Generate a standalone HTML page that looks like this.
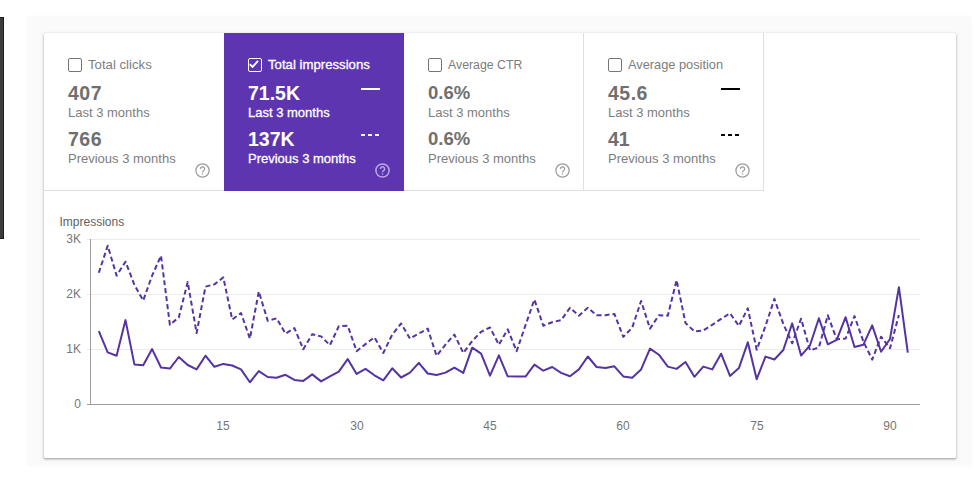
<!DOCTYPE html>
<html><head><meta charset="utf-8">
<style>
html,body{margin:0;padding:0;width:976px;height:489px;overflow:hidden;background:#fff;font-family:"Liberation Sans",sans-serif;}
.a{position:absolute}
#bar{left:0;top:17px;width:3px;height:220px;background:#3c3c3c;border-top:1px solid #1c1c1c;border-right:1px solid #1c1c1c;border-bottom:1px solid #1c1c1c}
#bg{left:28px;top:17px;width:943px;height:448px;background:#fafafa;box-shadow:0 0 3px 1px #fafafa}
#card{left:44px;top:33px;width:912px;height:425px;background:#fff;border-radius:1.5px;box-shadow:0 1px 2px rgba(0,0,0,.28),0 1px 3px 1px rgba(0,0,0,.10)}
.tile{position:absolute;top:0;width:180px;height:158px;box-sizing:border-box;border-bottom:1px solid #e0e0e0}
.t3,.t4{border-right:1px solid #e0e0e0}
.t2{background:#5e35b1;border-bottom:none;height:158px}
.cb{position:absolute;left:24px;top:25px;width:14px;height:14px;box-sizing:border-box;border:1.6px solid #757575;border-radius:2px}
.t2 .cb{border-color:#fff}
.ttl{position:absolute;left:44px;top:24px;font-size:13px;line-height:16px;color:#7d7d7d;white-space:nowrap}
.num{position:absolute;left:24px;font-size:19.5px;line-height:22px;font-weight:bold;color:#6f6f6f;white-space:nowrap}
.sub{position:absolute;left:24px;font-size:13px;line-height:16px;color:#7d7d7d;white-space:nowrap}
.t2 .ttl,.t2 .num,.t2 .sub{color:#fff}
.t2 .ttl,.t2 .sub{-webkit-text-stroke:.3px #fff}
.n1{top:49px}.s1{top:72px}.n2{top:95px}.s2{top:118px}
.help{position:absolute;left:151px;top:129.5px;width:15px;height:15px}
.leg{position:absolute;left:137px;width:19px;height:2px}
.lg1{top:55px}.lg2{top:101px}
#chart{left:0;top:0;width:976px;height:489px}
.yl{position:absolute;font-size:12px;line-height:14px;color:#757575;text-align:right;width:40px}
.xl{position:absolute;font-size:12px;line-height:14px;color:#757575;text-align:center;width:40px}
</style></head><body>
<div class="a" id="bar"></div>
<div class="a" id="bg"></div>
<div class="a" id="card">
  <div class="tile t1" style="left:0">
    <div class="cb"></div>
    <div class="ttl" style="font-size:13.2px">Total clicks</div>
    <div class="num n1" style="letter-spacing:.5px">407</div>
    <div class="sub s1">Last 3 months</div>
    <div class="num n2" style="letter-spacing:.5px">766</div>
    <div class="sub s2">Previous 3 months</div>
    <svg class="help" viewBox="0 0 15 15"><circle cx="7.5" cy="7.5" r="6.6" fill="none" stroke="#9e9e9e" stroke-width="1.3"/><path d="M5.4 5.9a2.1 2.1 0 1 1 3.2 1.8c-.7.4-1.1.8-1.1 1.6" fill="none" stroke="#9e9e9e" stroke-width="1.3"/><circle cx="7.5" cy="11" r=".8" fill="#9e9e9e"/></svg>
  </div>
  <div class="tile t2" style="left:180px">
    <div class="cb"><svg class="a" style="left:0;top:0" width="11" height="11" viewBox="0 0 11 11"><path d="M0.8 5.2L3.6 7.9L9 1.9" fill="none" stroke="#fff" stroke-width="1.9"/></svg></div>
    <div class="ttl" style="font-size:13.2px">Total impressions</div>
    <div class="num n1">71.5K</div>
    <div class="sub s1">Last 3 months</div>
    <div class="num n2">137K</div>
    <div class="sub s2">Previous 3 months</div>
    <div class="leg lg1" style="background:#fff"></div>
    <svg class="leg lg2" width="19" height="2"><line x1="0" y1="1" x2="19" y2="1" stroke="#fff" stroke-width="2" stroke-dasharray="4,3"/></svg>
    <svg class="help" viewBox="0 0 15 15"><circle cx="7.5" cy="7.5" r="6.6" fill="none" stroke="#bba6ec" stroke-width="1.5"/><path d="M5.4 5.9a2.1 2.1 0 1 1 3.2 1.8c-.7.4-1.1.8-1.1 1.6" fill="none" stroke="#bba6ec" stroke-width="1.5"/><circle cx="7.5" cy="11" r=".8" fill="#bba6ec"/></svg>
  </div>
  <div class="tile t3" style="left:360px">
    <div class="cb"></div>
    <div class="ttl" style="font-size:12.3px">Average CTR</div>
    <div class="num n1" style="font-size:18.5px">0.6%</div>
    <div class="sub s1">Last 3 months</div>
    <div class="num n2" style="font-size:18.5px">0.6%</div>
    <div class="sub s2">Previous 3 months</div>
    <svg class="help" viewBox="0 0 15 15"><circle cx="7.5" cy="7.5" r="6.6" fill="none" stroke="#9e9e9e" stroke-width="1.3"/><path d="M5.4 5.9a2.1 2.1 0 1 1 3.2 1.8c-.7.4-1.1.8-1.1 1.6" fill="none" stroke="#9e9e9e" stroke-width="1.3"/><circle cx="7.5" cy="11" r=".8" fill="#9e9e9e"/></svg>
  </div>
  <div class="tile t4" style="left:540px">
    <div class="cb"></div>
    <div class="ttl" style="font-size:12.8px">Average position</div>
    <div class="num n1" style="letter-spacing:.5px">45.6</div>
    <div class="sub s1">Last 3 months</div>
    <div class="num n2">41</div>
    <div class="sub s2">Previous 3 months</div>
    <div class="leg lg1" style="background:#000"></div>
    <svg class="leg lg2" width="19" height="2"><line x1="0" y1="1" x2="19" y2="1" stroke="#000" stroke-width="2" stroke-dasharray="4,3"/></svg>
    <svg class="help" viewBox="0 0 15 15"><circle cx="7.5" cy="7.5" r="6.6" fill="none" stroke="#9e9e9e" stroke-width="1.3"/><path d="M5.4 5.9a2.1 2.1 0 1 1 3.2 1.8c-.7.4-1.1.8-1.1 1.6" fill="none" stroke="#9e9e9e" stroke-width="1.3"/><circle cx="7.5" cy="11" r=".8" fill="#9e9e9e"/></svg>
  </div>
</div>
<div class="a" style="left:59.5px;top:215px;font-size:12px;line-height:14px;color:#616161">Impressions</div>
<div class="yl" style="left:41px;top:232px">3K</div>
<div class="yl" style="left:41px;top:287px">2K</div>
<div class="yl" style="left:41px;top:342px">1K</div>
<div class="yl" style="left:41px;top:397px">0</div>
<div class="xl" style="left:203px;top:419px">15</div>
<div class="xl" style="left:337px;top:419px">30</div>
<div class="xl" style="left:470px;top:419px">45</div>
<div class="xl" style="left:603px;top:419px">60</div>
<div class="xl" style="left:737px;top:419px">75</div>
<div class="xl" style="left:870px;top:419px">90</div>
<svg class="a" id="chart" width="976" height="489">
  <g stroke="#ebebeb" stroke-width="1">
    <line x1="87" y1="239.5" x2="920" y2="239.5"/>
    <line x1="87" y1="294.5" x2="920" y2="294.5"/>
    <line x1="87" y1="349.5" x2="920" y2="349.5"/>
  </g>
  <line x1="90.5" y1="239" x2="90.5" y2="404" stroke="#9e9e9e" stroke-width="1"/>
  <line x1="87" y1="404.5" x2="920" y2="404.5" stroke="#9e9e9e" stroke-width="1"/>
  <polyline fill="none" stroke="#5434a2" stroke-width="2" stroke-dasharray="5,3" stroke-linejoin="round" points="98.8,272.8 107.7,245.7 116.6,275.6 125.5,261.7 134.4,284.8 143.2,300.5 152.1,275.6 161.0,255.7 169.9,324.8 178.8,317.4 187.7,282.0 196.6,333.0 205.5,286.6 214.4,284.4 223.3,277.4 232.2,319.5 241.0,313.0 249.9,338.6 258.8,291.5 267.7,320.7 276.6,318.3 285.5,333.6 294.4,328.1 303.3,349.3 312.2,334.2 321.1,336.4 329.9,345.2 338.8,326.3 347.7,325.7 356.6,351.2 365.5,344.1 374.4,337.3 383.3,353.0 392.2,334.6 401.1,323.5 410.0,338.6 418.8,333.6 427.7,328.6 436.6,355.8 445.5,344.7 454.4,334.6 463.3,353.0 472.2,341.0 481.1,331.8 490.0,327.5 498.9,344.7 507.7,329.4 516.6,351.2 525.5,325.3 534.4,299.5 543.3,325.7 552.2,322.2 561.1,320.2 570.0,307.8 578.9,315.7 587.8,307.8 596.6,315.2 605.5,315.2 614.4,313.9 623.3,336.9 632.2,327.7 641.1,301.0 650.0,328.6 658.9,315.2 667.8,315.7 676.6,280.1 685.5,323.1 694.4,331.4 703.3,330.5 712.2,324.8 721.1,318.9 730.0,313.3 738.9,325.9 747.8,308.3 756.7,349.8 765.5,326.0 774.4,298.9 783.3,324.0 792.2,343.3 801.1,318.7 810.0,350.4 818.9,347.4 827.8,315.3 836.7,339.2 845.6,338.6 854.5,316.1 863.3,341.3 872.2,359.6 881.1,336.7 890.0,348.3 898.9,315.0"/>
  <polyline fill="none" stroke="#5434a2" stroke-width="2" stroke-linejoin="round" points="98.8,331.2 107.7,352.4 116.6,355.7 125.5,320.1 134.4,364.4 143.2,365.3 152.1,349.1 161.0,367.5 169.9,368.6 178.8,357.0 187.7,365.0 196.6,369.4 205.5,355.7 214.4,366.8 223.3,363.9 232.2,365.5 241.0,369.4 249.9,382.3 258.8,371.1 267.7,377.0 276.6,377.7 285.5,374.8 294.4,379.9 303.3,380.9 312.2,374.4 321.1,381.4 329.9,376.3 338.8,371.6 347.7,359.1 356.6,373.9 365.5,368.9 374.4,375.3 383.3,380.3 392.2,368.3 401.1,377.5 410.0,372.6 418.8,362.8 427.7,373.5 436.6,375.0 445.5,372.6 454.4,367.6 463.3,372.9 472.2,347.7 481.1,353.6 490.0,375.7 498.9,355.4 507.7,376.3 516.6,376.6 525.5,376.6 534.4,364.6 543.3,370.7 552.2,367.0 561.1,372.9 570.0,376.3 578.9,369.4 587.8,356.5 596.6,367.0 605.5,368.1 614.4,366.3 623.3,376.4 632.2,377.7 641.1,369.4 650.0,348.6 658.9,354.7 667.8,366.6 676.6,368.9 685.5,362.0 694.4,376.8 703.3,366.6 712.2,369.4 721.1,353.7 730.0,375.9 738.9,368.1 747.8,342.3 756.7,379.2 765.5,356.6 774.4,359.5 783.3,350.0 792.2,323.4 801.1,355.6 810.0,345.3 818.9,318.3 827.8,344.3 836.7,339.8 845.6,317.2 854.5,347.0 863.3,344.8 872.2,325.4 881.1,351.8 890.0,339.0 898.9,287.2 907.8,352.7"/>
</svg>
</body></html>
